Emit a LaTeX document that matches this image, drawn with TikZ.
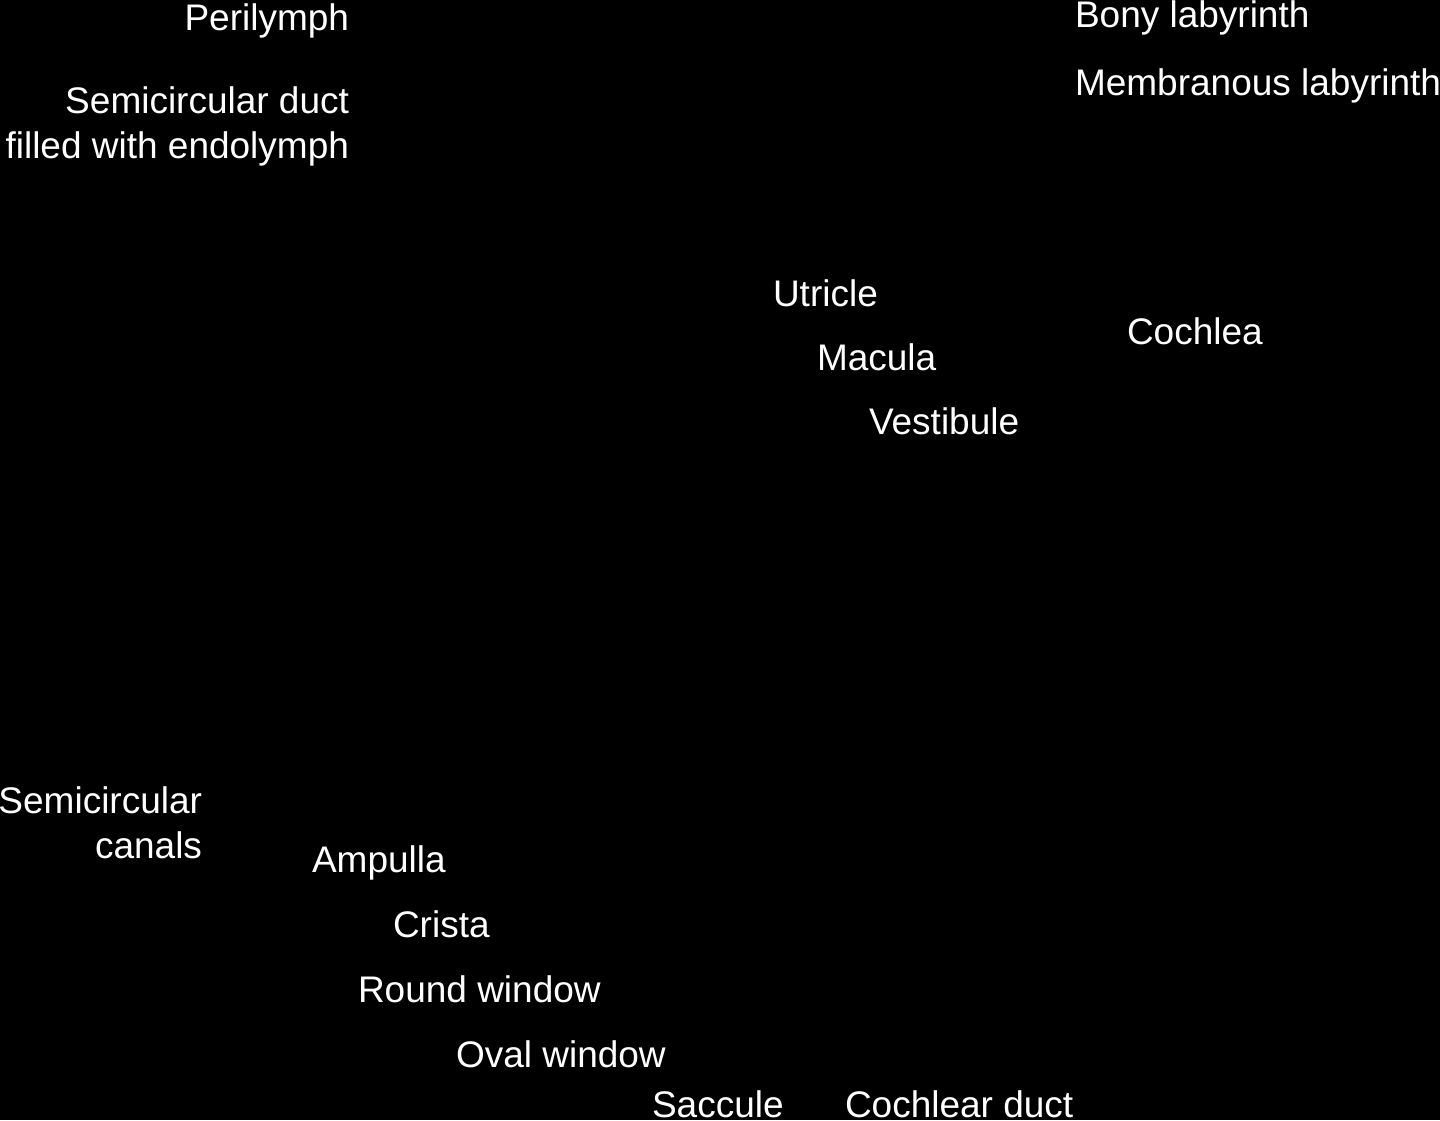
\documentclass[tikz,border=0pt]{standalone}
\usepackage{fontspec}
\setmainfont{Liberation Sans}
\begin{document}
\begin{tikzpicture}[x=1pt,y=-1pt,
  lbl/.style={text=white,inner sep=0pt,outer sep=0pt,font=\fontsize{37}{45}\selectfont},
  lw/.style={lbl,anchor=base west},
  le/.style={lbl,anchor=base east}]
\fill[black] (0,0) rectangle (1440,1120);
\useasboundingbox (0,0) rectangle (1440,1120);
\node[le] (peri) at (349,30) {Perilymph};
\node[le] (duct1) at (349,113) {Semicircular duct};
\node[le] (duct2) at (349,158) {filled with endolymph};
\node[lw] (bony) at (1075,27) {Bony labyrinth};
\node[lw] (memb) at (1075,95) {Membranous labyrinth};
\node[lw] (utr) at (773,306) {Utricle};
\node[lw] (mac) at (817,370) {Macula};
\node[lw] (vest) at (869,434) {Vestibule};
\node[lw] (coch) at (1127,344) {Cochlea};
\node[le] (sc1) at (202,813) {Semicircular};
\node[le] (sc2) at (202,858) {canals};
\node[lw] (amp) at (312,872) {Ampulla};
\node[lw] (cris) at (393,937) {Crista};
\node[lw] (round) at (358,1002) {Round window};
\node[lw] (oval) at (456,1067) {Oval window};
\node[lw] (sacc) at (652,1117) {Saccule};
\node[lw] (cduct) at (845,1117) {Cochlear duct};
\end{tikzpicture}
\end{document}
